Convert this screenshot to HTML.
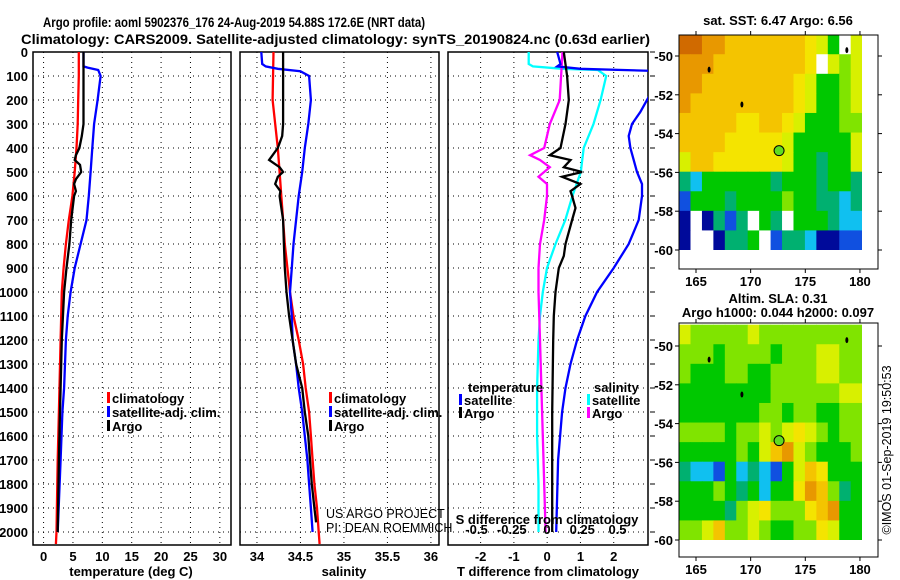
<!DOCTYPE html>
<html><head><meta charset="utf-8"><style>
html,body{margin:0;padding:0;background:#fff;}
svg{display:block;font-family:"Liberation Sans",sans-serif;}
.b{font-weight:bold;font-size:13px;}
</style></head><body>
<svg id="s" width="900" height="580" viewBox="0 0 900 580">
<text x="43" y="27" font-size="14" font-weight="bold" textLength="382" lengthAdjust="spacingAndGlyphs">Argo profile: aoml 5902376_176 24-Aug-2019 54.88S 172.6E (NRT data)</text>
<text x="21" y="44" font-size="14" font-weight="bold" textLength="629" lengthAdjust="spacingAndGlyphs">Climatology: CARS2009. Satellite-adjusted climatology: synTS_20190824.nc (0.63d earlier)</text>
<defs>
<clipPath id="c1"><rect x="33" y="52" width="198" height="493"/></clipPath>
<clipPath id="c2"><rect x="240" y="52" width="199" height="493"/></clipPath>
<clipPath id="c3"><rect x="448" y="52" width="200" height="493"/></clipPath>
<clipPath id="m1"><rect x="679" y="35" width="183" height="215"/></clipPath>
<clipPath id="m2"><rect x="679" y="323" width="183" height="217"/></clipPath>
</defs>
<g id="g"></g>
</svg>
<script>
// ---------- profile data ----------
const depthTicks=[0,100,200,300,400,500,600,700,800,900,1000,1100,1200,1300,1400,1500,1600,1700,1800,1900,2000];
const tempTicks=[0,5,10,15,20,25,30];
const salTicks=[34,34.5,35,35.5,36];
const tdTicks=[-2,-1,0,1,2];
const sdTicks=[-0.5,-0.25,0,0.25,0.5];
const sdTickLabels=["-0.5","-0.25","0","0.25","0.5"];

const tClimDepth=[0,100,200,300,400,500,600,700,800,900,1000,1200,1500,1700,2000,2050];
const tClimVal=[6.0,6.0,5.9,5.8,5.6,5.3,4.9,4.3,3.8,3.4,3.1,2.9,2.6,2.4,2.2,2.1];
const tArgoDepth=[0,300,350,400,430,450,470,500,530,550,580,600,700,800,900,1000,1200,1500,1700,2000];
const tArgoVal=[6.8,6.8,6.5,6.1,5.5,5.3,6.2,6.4,5.5,5.2,5.5,5.2,4.7,4.4,3.9,3.5,3.1,2.8,2.6,2.4];
const tSatDepth=[0,60,65,75,100,200,300,400,500,600,700,800,900,1000,1100,1200,1400,1500,1700,2000];
const tSatVal=[6.8,6.8,7.5,9.3,9.7,9.2,8.6,8.3,8.0,7.7,7.3,6.3,5.3,4.6,4.1,3.8,3.5,3.2,2.9,2.4];

const sClimDepth=[0,200,300,400,500,600,700,800,900,1000,1100,1200,1300,1400,1500,1600,1700,1800,1900,2000,2050];
const sClimVal=[34.19,34.18,34.21,34.24,34.26,34.28,34.30,34.32,34.35,34.38,34.42,34.48,34.53,34.56,34.60,34.62,34.64,34.66,34.69,34.71,34.72];
const sArgoDepth=[0,300,350,400,430,450,480,500,520,550,580,600,700,800,900,1000,1100,1200,1300,1400,1500,1600,1700,1800,1900,1960];
const sArgoVal=[34.30,34.30,34.29,34.24,34.18,34.14,34.26,34.30,34.24,34.21,34.27,34.26,34.30,34.31,34.32,34.34,34.37,34.41,34.45,34.52,34.55,34.59,34.61,34.63,34.66,34.68];
const sSatDepth=[0,50,60,70,80,100,200,300,400,500,600,700,800,900,1000,1100,1200,1300,1400,1500,1600,1700,1800,1900,2000];
const sSatVal=[34.05,34.06,34.10,34.24,34.50,34.60,34.62,34.59,34.55,34.52,34.48,34.45,34.42,34.40,34.38,34.40,34.41,34.45,34.48,34.52,34.55,34.58,34.60,34.62,34.64];

const tdSatDepth=[0,50,60,70,80,200,250,300,350,400,500,550,600,700,800,900,1000,1100,1200,1300,1400,1500,1700,2000];
const tdSatVal=[0.3,0.4,0.3,1.0,3.5,3.0,2.8,2.55,2.45,2.5,2.7,2.85,2.85,2.75,2.45,2.0,1.5,1.15,0.9,0.7,0.55,0.45,0.33,0.27];
const tdArgoDepth=[0,100,200,300,400,430,450,480,500,520,550,580,600,650,700,800,850,900,1000,1100,1200,1500,2000];
const tdArgoVal=[0.5,0.6,0.65,0.55,0.4,0.08,0.7,0.5,1.05,0.45,1.0,0.7,0.75,0.85,0.75,0.55,0.5,0.35,0.25,0.2,0.18,0.15,0.15];
const sdSatDepth=[0,50,60,70,75,100,200,300,400,500,600,700,800,900,1000,1100,1200,1400,1600,1800,2000];
const sdSatVal=[-0.13,-0.13,-0.1,0.11,0.36,0.42,0.38,0.33,0.26,0.24,0.18,0.13,0.06,0.0,-0.03,-0.05,-0.06,-0.07,-0.07,-0.06,-0.06];
const sdArgoDepth=[0,100,200,300,400,430,450,480,520,550,600,700,800,900,1000,1200,1400,1600,1800,2000];
const sdArgoVal=[0.11,0.1,0.09,0.02,-0.02,-0.12,-0.05,0.02,-0.06,0.0,0.0,-0.02,-0.05,-0.06,-0.06,-0.05,-0.04,-0.03,-0.02,-0.01];

// ---------- map data ----------
const mapLatTicks=[-50,-52,-54,-56,-58,-60];
const mapLonTicks=[165,170,175,180];
const palette={"0":"#000a9a","1":"#1050e0","2":"#10c0f0","3":"#00b070","4":"#00c800","5":"#80e400","6":"#d8f000","7":"#f4e400","8":"#f4c400","9":"#e89800","a":"#d06a00","w":"#ffffff"};
const sstRows=["aa998888888764w6","999888888887w656","9988888888764456","9888888888764456","8888877887644455","8888777776444446","6887777776443446","3244444434443443","1444344445443323","0w0313w43w444322","0ww0334w13320011"];
const slaRows=["6555556555555555","5554555545556655","5444554455556655","4444444455555566","4444444554554455","5555455656765455","4444454689654445","3221423214687444","4445434244798534","4444356755578944","5568556544557644"];
const argoLon=172.6, argoLat=-54.88;
const islandsLon=[166.2,169.2,178.8];
const islandsLat=[-50.7,-52.5,-49.7];

const NS="http://www.w3.org/2000/svg";
const G=document.getElementById('g');
function mk(tag,attrs,parent){const e=document.createElementNS(NS,tag);for(const k in attrs)e.setAttribute(k,attrs[k]);(parent||G).appendChild(e);return e;}
const yD=d=>52+d*0.24;
const panels=[
 {x0:33,x1:231,min:-1.8,max:31.9,ticks:tempTicks,lbl:tempTicks.map(String),title:"temperature (deg C)",tx:131,clip:"c1",name:"temperature-panel"},
 {x0:240,x1:439,min:33.805,max:36.093,ticks:salTicks,lbl:salTicks.map(String),title:"salinity",tx:344,clip:"c2",name:"salinity-panel"},
 {x0:448,x1:648,min:-2.98,max:3.03,ticks:tdTicks,lbl:tdTicks.map(String),title:"T difference from climatology",tx:548,clip:"c3",name:"difference-panel"}];
panels.forEach(p=>{p.f=v=>p.x0+(v-p.min)/(p.max-p.min)*(p.x1-p.x0);});
const sdX=v=>547+v*141;

panels.forEach((p,pi)=>{
 const grp=mk('g',{});
 
 
 depthTicks.forEach(d=>{const l=mk('line',{x1:p.x0,x2:p.x1,y1:yD(d),y2:yD(d),stroke:'#000','stroke-width':1,'stroke-dasharray':'1,4'},grp);
  });
 p.ticks.forEach((t,i)=>{const x=p.f(t);
  const l=mk('line',{x1:x,x2:x,y1:52,y2:545,stroke:'#000','stroke-width':1,'stroke-dasharray':'1,4'},grp);
  
  const t2=mk('text',{x:x,y:561,'text-anchor':'middle',class:'b'},grp);t2.textContent=p.lbl[i];
  });
 const r=mk('rect',{x:p.x0,y:52,width:p.x1-p.x0,height:493,fill:'none',stroke:'#000','stroke-width':1.5},grp);
 
 const at=mk('text',{x:p.tx,y:576,'text-anchor':'middle',class:'b'},grp);at.textContent=p.title;
 
});
depthTicks.forEach(d=>{const t=mk('text',{x:28,y:yD(d)+5,'text-anchor':'end',class:'b'});t.textContent=String(d);
 });
depthTicks.forEach(d=>{const l=mk('line',{x1:650,x2:655,y1:yD(d),y2:yD(d),stroke:'#000'});
 });

function series(depths,vals,fx,color,clip,name){
 const pts=depths.map((d,i)=>fx(vals[i]).toFixed(1)+','+yD(d).toFixed(1)).join(' ');
 const pl=mk('polyline',{points:pts,fill:'none',stroke:color,'stroke-width':2.3,'clip-path':'url(#'+clip+')'});
 
 
}
const P=panels;
series(tClimDepth,tClimVal,P[0].f,'#ff0000','c1','temp-climatology-line');
series(tSatDepth,tSatVal,P[0].f,'#0000ff','c1','temp-satellite-line');
series(tArgoDepth,tArgoVal,P[0].f,'#000000','c1','temp-argo-line');
series(sClimDepth,sClimVal,P[1].f,'#ff0000','c2','salinity-climatology-line');
series(sSatDepth,sSatVal,P[1].f,'#0000ff','c2','salinity-satellite-line');
series(sArgoDepth,sArgoVal,P[1].f,'#000000','c2','salinity-argo-line');
series(sdSatDepth,sdSatVal,sdX,'#00ffff','c3','sdiff-satellite-line');
series(sdArgoDepth,sdArgoVal,sdX,'#ff00ff','c3','sdiff-argo-line');
series(tdSatDepth,tdSatVal,P[2].f,'#0000ff','c3','tdiff-satellite-line');
series(tdArgoDepth,tdArgoVal,P[2].f,'#000000','c3','tdiff-argo-line');

sdTicks.forEach((v,i)=>{const t=mk('text',{x:sdX(v),y:534,'text-anchor':'middle',class:'b'});t.textContent=sdTickLabels[i];
 });
{const t=mk('text',{x:547,y:524,'text-anchor':'middle',class:'b'});t.textContent='S difference from climatology';
 }

function legend(x,y,color,label,name){
 const r=mk('rect',{x:x,y:y-6,width:3,height:11,fill:color});
 
 if(label){const t=mk('text',{x:x+5,y:y+5,class:'b'});t.textContent=label;
 }
}
legend(107,398,'#ff0000','climatology','legend-climatology');
legend(107,412,'#0000ff','satellite-adj. clim.','legend-satellite');
legend(107,426,'#000000','Argo','legend-argo');
legend(329,398,'#ff0000','climatology','legend-sal-climatology');
legend(329,412,'#0000ff','satellite-adj. clim.','legend-sal-satellite');
legend(329,426,'#000000','Argo','legend-sal-argo');
{const t=mk('text',{x:468,y:392,class:'b'});t.textContent='temperature';}
{const t=mk('text',{x:594,y:392,class:'b'});t.textContent='salinity';}
legend(459,400,'#0000ff','satellite','legend-t-satellite');
legend(459,413,'#000000','Argo','legend-t-argo');
legend(587,400,'#00ffff','satellite','legend-s-satellite');
legend(587,413,'#ff00ff','Argo','legend-s-argo');
{const t=mk('text',{x:326,y:518,'font-size':12.5});t.textContent='US ARGO PROJECT';}
{const t=mk('text',{x:326,y:532,'font-size':12.5});t.textContent='PI: DEAN ROEMMICH';}

// ---------- maps ----------
const lonX=l=>696+(l-165)*10.93;
function drawMap(rows,top,latY,clip,title1,title2,name){
 const grp=mk('g',{});
 
 
 const nC=rows[0].length,nR=rows.length;
 const lonA=163.45,lonB=180.2,latA=-48.9,latB=-60;
 const cg=mk('g',{'clip-path':'url(#'+clip+')'},grp);
 rows.forEach((row,j)=>{[...row].forEach((ch,i)=>{
   const la0=latA+(latB-latA)*j/nR, la1=latA+(latB-latA)*(j+1)/nR;
   const lo0=lonA+(lonB-lonA)*i/nC, lo1=lonA+(lonB-lonA)*(i+1)/nC;
   const c=mk('rect',{x:lonX(lo0),y:latY(la0),width:lonX(lo1)-lonX(lo0)+0.5,height:latY(la1)-latY(la0)+0.5,fill:palette[ch]},cg);
   
   
 });});
 islandsLon.forEach((lo,i)=>{const e=mk('ellipse',{cx:lonX(lo),cy:latY(islandsLat[i]),rx:1.5,ry:3,fill:'#000'},grp);
  });
 const m=mk('circle',{cx:lonX(argoLon),cy:latY(argoLat),r:5,fill:'#60dc20',stroke:'#000','stroke-width':1},grp);
 
 const bx=mk('rect',{x:679,y:top,width:199,height:234,fill:'none',stroke:'#000','stroke-width':1},grp);
 
 mapLatTicks.forEach(la=>{const y=latY(la);
  mk('line',{x1:675,x2:679,y1:y,y2:y,stroke:'#000'},grp);mk('line',{x1:878,x2:882,y1:y,y2:y,stroke:'#000'},grp);
  const t=mk('text',{x:673,y:y+5,'text-anchor':'end',class:'b'},grp);t.textContent=String(la);
  });
 mapLonTicks.forEach(lo=>{const x=lonX(lo);
  mk('line',{x1:x,x2:x,y1:top-4,y2:top,stroke:'#000'},grp);mk('line',{x1:x,x2:x,y1:top+234,y2:top+238,stroke:'#000'},grp);
  const t=mk('text',{x:x,y:top+251,'text-anchor':'middle',class:'b'},grp);t.textContent=String(lo);
  });
 const t1=mk('text',{x:778,y:title2?top-20:top-10,'text-anchor':'middle',class:'b'},grp);t1.textContent=title1;
 
 if(title2){const t2=mk('text',{x:778,y:top-6,'text-anchor':'middle',class:'b'},grp);t2.textContent=title2;
  }
}
drawMap(sstRows,35,la=>56+(-50-la)*19.4,'m1','sat. SST: 6.47 Argo: 6.56',null,'sst-map');
drawMap(slaRows,323,la=>346+(-50-la)*19.4,'m2','Altim. SLA: 0.31','Argo h1000: 0.044 h2000: 0.097','sla-map');
{const t=mk('text',{x:0,y:0,'font-size':12.5,transform:'translate(891,450) rotate(-90)','text-anchor':'middle'});
 t.textContent='©IMOS 01-Sep-2019 19:50:53';}
</script>
</body></html>
